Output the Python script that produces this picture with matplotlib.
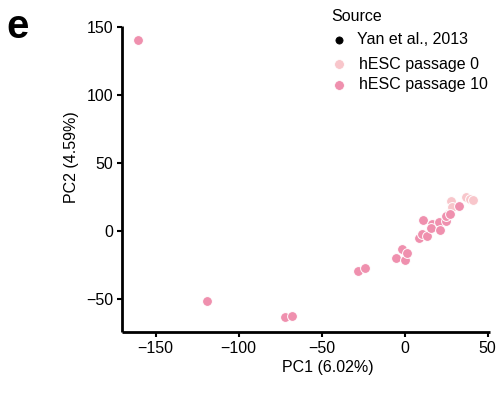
import matplotlib
matplotlib.use("Agg")
import matplotlib.pyplot as plt
from matplotlib.lines import Line2D

plt.rcParams['font.family'] = ['Liberation Sans', 'DejaVu Sans']

# passage 10 points
p10_x = [-160.5, -118.9, -72.1, -68.1, -28.3, -23.7, -5.4, 0.2, -1.8, 1.6,
         8.8, 10.2, 13.6, 11.0, 16.3, 15.8, 20.7, 21.3, 24.9, 24.9, 27.3, 32.7]
p10_y = [140.3, -51.5, -62.8, -62.0, -29.3, -27.3, -20.0, -21.0, -12.9, -15.8,
         -5.1, -2.4, -3.9, 8.4, 5.4, 2.2, 6.6, 0.5, 7.3, 11.0, 12.8, 18.6]
# passage 0 points
p0_x = [25.8, 28.1, 28.7, 36.7, 39.3, 41.3]
p0_y = [12.6, 21.8, 17.4, 24.9, 23.7, 23.0]

legend_title = "Source"
legend_labels = ["Yan et al., 2013", "hESC passage 0", "hESC passage 10"]
col_yan = "black"
col_p0 = "#F8C6CB"
col_p10 = "#EF90AE"

W, H = 504, 394
fig = plt.figure(figsize=(5.04, 3.94), dpi=100)
ax = fig.add_axes([122 / W, 1 - 331.7 / H, (490 - 122) / W, (331.7 - 26) / H])

ax.scatter(p0_x, p0_y, s=50, color=col_p0, edgecolor="white", linewidth=0.7, zorder=3)
ax.scatter(p10_x, p10_y, s=50, color=col_p10, edgecolor="white", linewidth=0.7, zorder=3)

ax.set_xlim(-170.3, 51.4)
ax.set_ylim(-73.8, 150.5)
ax.set_xticks([-150, -100, -50, 0, 50])
ax.set_yticks([-50, 0, 50, 100, 150])
for s in ["top", "right"]:
    ax.spines[s].set_visible(False)
for s in ["left", "bottom"]:
    ax.spines[s].set_linewidth(2)
    ax.spines[s].set_capstyle("butt")
ax.tick_params(width=1.5, length=3.5, labelsize=11.5, pad=3)

fig.text(328 / W, 1 - 367.7 / H, "PC1 (6.02%)", fontsize=11.5, ha="center", va="center")
fig.text(71.7 / W, 1 - 156.7 / H, "PC2 (4.59%)", fontsize=11.5, ha="center", va="center",
         rotation=90)

fig.text(17.5 / W, 1 - 27 / H, "e", fontsize=29, fontweight="bold", ha="center", va="center")

# legend (manual, figure coordinates)
fig.text(331.7 / W, 1 - 16.7 / H, legend_title, fontsize=11.5, ha="left", va="center")
leg_y = [40, 64, 85]
leg_tx = [357.3, 359.3, 359.3]
leg_cols = [col_yan, col_p0, col_p10]
leg_ms = [5.2, 7.0, 7.0]
for lab, yy, tx, c, ms in zip(legend_labels, leg_y, leg_tx, leg_cols, leg_ms):
    fig.add_artist(Line2D([339 / W], [1 - yy / H], marker="o", linestyle="", color=c,
                          markersize=ms, markeredgecolor="white" if c != "black" else c,
                          markeredgewidth=0.5, transform=fig.transFigure))
    fig.text(tx / W, 1 - yy / H, lab, fontsize=11.5, ha="left", va="center")

fig.savefig("out.png", dpi=100)
